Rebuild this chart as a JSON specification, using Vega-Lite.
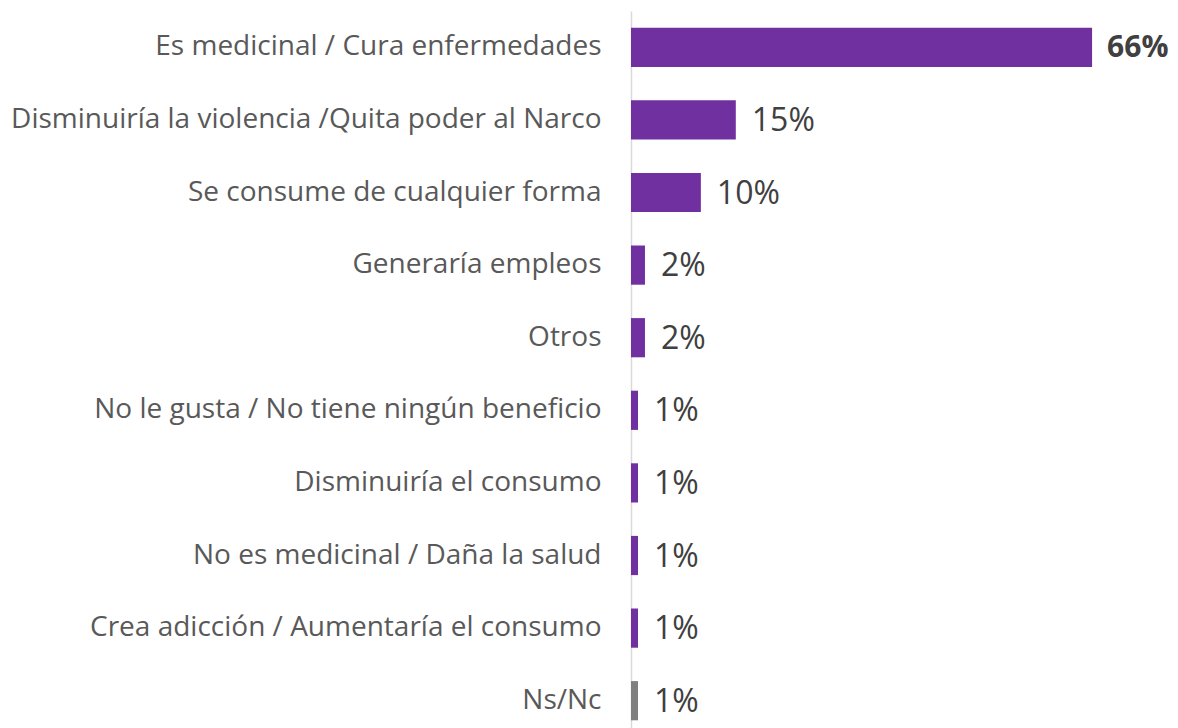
{
  "$schema": "https://vega.github.io/schema/vega-lite/v6.json",
  "autosize": {"type": "none"},
  "padding": {"left": 631, "top": 11, "right": 0, "bottom": 0},
  "width": 547,
  "height": 726,
  "background": "white",
  "config": {"view": {"stroke": null}, "font": "Open Sans"},
  "data": {
    "values": [
      {"label": "Es medicinal / Cura enfermedades", "value": 0.66, "group": "a", "bold": "y"},
      {"label": "Disminuiría la violencia /Quita poder al Narco", "value": 0.15, "group": "a", "bold": "n"},
      {"label": "Se consume de cualquier forma", "value": 0.10, "group": "a", "bold": "n"},
      {"label": "Generaría empleos", "value": 0.02, "group": "a", "bold": "n"},
      {"label": "Otros", "value": 0.02, "group": "a", "bold": "n"},
      {"label": "No le gusta / No tiene ningún beneficio", "value": 0.01, "group": "a", "bold": "n"},
      {"label": "Disminuiría el consumo", "value": 0.01, "group": "a", "bold": "n"},
      {"label": "No es medicinal / Daña la salud", "value": 0.01, "group": "a", "bold": "n"},
      {"label": "Crea adicción / Aumentaría el consumo", "value": 0.01, "group": "a", "bold": "n"},
      {"label": "Ns/Nc", "value": 0.01, "group": "b", "bold": "n"}
    ]
  },
  "encoding": {
    "y": {
      "field": "label",
      "type": "nominal",
      "sort": null,
      "scale": {"paddingInner": 0.46, "paddingOuter": 0.23},
      "axis": {
        "title": null,
        "ticks": false,
        "domainColor": "#d9d9d9",
        "domainWidth": 1.5,
        "labelFontSize": 28,
        "labelColor": "#595959",
        "labelPadding": 30,
        "labelLimit": 700
      }
    },
    "x": {
      "field": "value",
      "type": "quantitative",
      "scale": {"domain": [0, 0.783]},
      "axis": null
    }
  },
  "layer": [
    {
      "mark": {"type": "bar"},
      "encoding": {
        "color": {
          "field": "group",
          "type": "nominal",
          "scale": {"domain": ["a", "b"], "range": ["#7030a0", "#7f7f7f"]},
          "legend": null
        }
      }
    },
    {
      "transform": [{"filter": "datum.bold === 'n'"}],
      "mark": {"type": "text", "align": "left", "baseline": "middle", "dx": 16, "dy": 1, "fontSize": 32, "color": "#404040"},
      "encoding": {
        "text": {"field": "value", "type": "quantitative", "format": ".0%"}
      }
    },
    {
      "transform": [{"filter": "datum.bold === 'y'"}],
      "mark": {"type": "text", "align": "left", "baseline": "middle", "dx": 15, "dy": 1, "fontSize": 30, "fontWeight": "bold", "color": "#404040"},
      "encoding": {
        "text": {"field": "value", "type": "quantitative", "format": ".0%"}
      }
    }
  ]
}
